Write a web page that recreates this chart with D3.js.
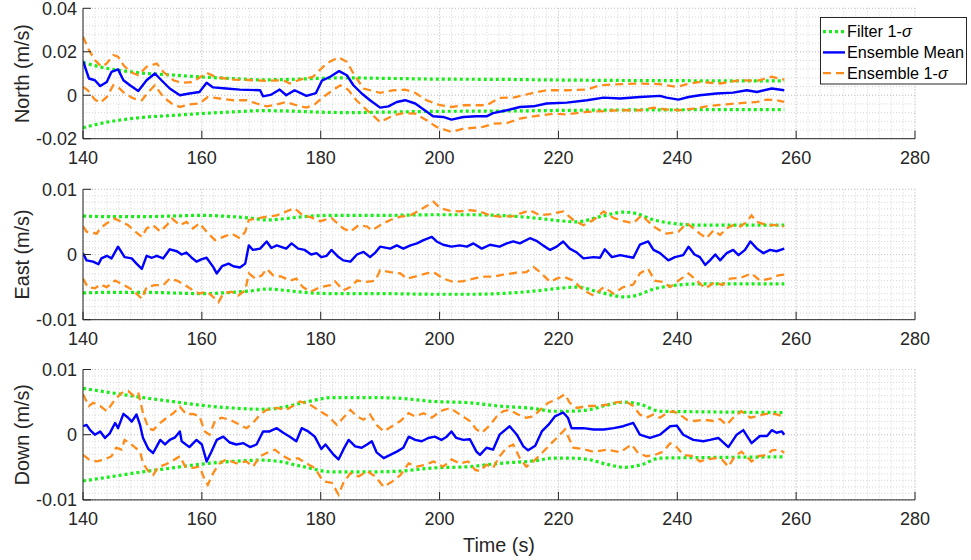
<!DOCTYPE html>
<html>
<head>
<meta charset="utf-8">
<script src="https://cdn.jsdelivr.net/npm/d3@7"></script>
<style>
  html, body { margin: 0; padding: 0; background: #fff; }
  svg { display: block; font-family: "Liberation Sans", Arial, Helvetica, sans-serif; }
</style>
</head>
<body>
<svg id="chart" width="971" height="560"></svg>
<script>
// Ensemble vs filter velocity error, three subplots (N / E / D).
// Each series is a list of [time (s), value (m/s)].

// ---------- North ----------
const northFilter = [[140,0.0150],[142,0.0136],[144,0.0124],[146,0.0115],[148,0.0108],[150,0.0102],[155,0.0093],[160,0.0084],[165,0.0077],[170,0.0071],[175,0.0073],[180,0.0078],[185,0.0080],[190,0.0078],[195,0.0076],[200,0.0074],[210,0.0073],[220,0.0070],[230,0.0068],[240,0.0067],[250,0.0066],[258,0.0066]];
const northMean = [[140,0.0158],[141,0.0077],[142,0.0069],[142.9,0.0042],[144,0.0061],[144.8,0.0108],[145.9,0.0119],[146.8,0.0069],[147.9,0.0046],[149.3,0.0020],[150.7,0.0069],[152.1,0.0100],[153.2,0.0069],[154.6,0.0031],[156.3,0.0000],[157.9,0.0008],[159.6,0.0015],[160.8,0.0057],[161.9,0.0036],[164.1,0.0031],[166.4,0.0026],[169.8,0.0023],[170.3,-0.0005],[171.7,0.0003],[173.1,0.0026],[174.2,0.0000],[175.6,0.0023],[177.6,-0.0003],[179.2,0.0010],[180.2,0.0067],[181.6,0.0085],[183.1,0.0111],[184.4,0.0092],[185.5,0.0046],[186.9,0.0008],[188.3,-0.0023],[190,-0.0057],[191.4,-0.0051],[192.8,-0.0031],[194.2,-0.0023],[195.9,-0.0038],[197.5,-0.0069],[198.9,-0.0097],[200.6,-0.0100],[202,-0.0112],[204,-0.0100],[206.2,-0.0097],[207.9,-0.0097],[209,-0.0082],[211.3,-0.0069],[213.5,-0.0054],[215.8,-0.0051],[218,-0.0038],[221.4,-0.0034],[224.8,-0.0023],[227.6,-0.0011],[230.4,-0.0015],[233.7,-0.0008],[237.1,-0.0003],[238.2,-0.0011],[240.2,-0.0020],[241.9,-0.0008],[243.8,0.0000],[246.6,0.0008],[249.4,0.0012],[251.7,0.0023],[253.4,0.0015],[255.9,0.0031],[258,0.0023]];
const northEnsUpper = [[140,0.0269],[141,0.0208],[142,0.0162],[143.1,0.0131],[144,0.0146],[145.1,0.0185],[145.9,0.0177],[146.8,0.0139],[147.9,0.0108],[149.3,0.0092],[150.7,0.0131],[152.4,0.0146],[153.5,0.0108],[155.2,0.0069],[156.6,0.0057],[158.5,0.0061],[160.8,0.0103],[162.5,0.0082],[165.3,0.0072],[168.6,0.0069],[170.9,0.0066],[173.7,0.0069],[174.8,0.0054],[176.5,0.0072],[178.7,0.0085],[180.4,0.0131],[181.5,0.0154],[183,0.0174],[184.4,0.0154],[185.5,0.0100],[187.2,0.0031],[190,0.0011],[192.3,0.0023],[194.2,0.0026],[195.9,0.0011],[197.8,-0.0023],[200.1,-0.0046],[202,-0.0054],[204,-0.0046],[207.9,-0.0046],[210.1,-0.0012],[212.4,-0.0011],[215.8,0.0011],[218,0.0023],[221.4,0.0023],[224.8,0.0026],[227,0.0046],[230.4,0.0051],[233.7,0.0054],[237.1,0.0051],[239.9,0.0038],[241.6,0.0051],[243.8,0.0061],[247.2,0.0054],[250.6,0.0069],[253.4,0.0066],[255.9,0.0085],[258,0.0072]];
const northEnsLower = [[140,0.0038],[140.8,0.0023],[142,-0.0020],[142.9,-0.0035],[144,-0.0008],[145.1,0.0046],[145.9,0.0038],[147,0.0008],[148.5,-0.0015],[149.9,-0.0023],[151,0.0015],[152.1,0.0046],[153.5,-0.0008],[154.9,-0.0038],[156.3,-0.0054],[157.9,-0.0042],[159.6,-0.0038],[161,-0.0008],[163,-0.0015],[165.3,-0.0023],[167.5,-0.0023],[169.2,-0.0038],[170.9,-0.0051],[172.6,-0.0042],[174.2,-0.0031],[175.9,-0.0046],[177.6,-0.0057],[179,-0.0042],[180.1,-0.0015],[181.6,0.0015],[183.3,0.0046],[184.6,0.0026],[186,-0.0023],[187.8,-0.0069],[190,-0.0123],[192.3,-0.0092],[194,-0.0082],[195.9,-0.0085],[197.8,-0.0115],[199.5,-0.0146],[202,-0.0169],[204,-0.0154],[207.3,-0.0146],[209,-0.0131],[211.3,-0.0128],[213.5,-0.0108],[215.8,-0.0097],[219.2,-0.0085],[221.4,-0.0088],[224.8,-0.0077],[228.2,-0.0072],[230.4,-0.0069],[233.7,-0.0069],[236,-0.0057],[238.2,-0.0066],[240.4,-0.0069],[242.7,-0.0062],[244.9,-0.0051],[248.3,-0.0042],[251.1,-0.0035],[253.4,-0.0031],[255.1,-0.0020],[256.7,-0.0023],[258,-0.0031]];
const northTicks = [-0.02, 0, 0.02, 0.04];
const northTickLabels = ['-0.02', '0', '0.02', '0.04'];

// ---------- East ----------
const eastFilter = [[140,0.0059],[145,0.0058],[150,0.0058],[155,0.0059],[160,0.0060],[165,0.0058],[168,0.0056],[171,0.0053],[174,0.0055],[177,0.0058],[182,0.0060],[190,0.0060],[200,0.0061],[205,0.0061],[210,0.0060],[216,0.0056],[220,0.0052],[223,0.0050],[227,0.0058],[231,0.0065],[233,0.0063],[236,0.0053],[239,0.0048],[244,0.0045],[250,0.0045],[258,0.0045]];
const eastMean = [[140,0.0002],[140.6,-0.0009],[141.7,-0.0011],[142.6,-0.0015],[143.1,-0.0006],[144,-0.0002],[144.8,-0.0006],[145.9,0.0012],[147,-0.0004],[148.2,-0.0006],[149,-0.0014],[149.9,-0.0022],[150.7,-0.0002],[151.6,-0.0005],[152.4,-0.0002],[153.5,-0.0006],[154.6,0.0008],[155.8,0.0005],[156.6,0.0000],[157.4,0.0003],[158.3,-0.0005],[159.1,-0.0011],[160,-0.0007],[160.8,-0.0005],[161.9,-0.0019],[162.5,-0.0029],[163.4,-0.0018],[164.5,-0.0014],[165.3,-0.0018],[166.4,-0.0020],[167.3,-0.0014],[167.9,0.0014],[168.6,0.0007],[169.8,0.0009],[170.9,0.0020],[171.7,0.0010],[172.6,0.0014],[174.2,0.0009],[175.1,0.0017],[176.2,0.0009],[177.3,0.0007],[178.4,0.0000],[179.3,0.0002],[180.1,-0.0004],[181,-0.0002],[181.8,0.0007],[183,-0.0004],[183.8,-0.0009],[185,-0.0011],[186.1,0.0000],[187.2,0.0004],[188.3,-0.0004],[189.2,0.0003],[190,0.0012],[191.7,0.0009],[192.8,0.0014],[193.9,0.0009],[195.1,0.0014],[196.2,0.0017],[197.3,0.0022],[198.7,0.0027],[199.5,0.0020],[200.6,0.0015],[202,0.0012],[203.4,0.0014],[204.6,0.0012],[205.7,0.0017],[207.1,0.0009],[208.5,0.0015],[210.1,0.0012],[211.3,0.0017],[212.4,0.0020],[213.5,0.0017],[215.2,0.0025],[216.3,0.0021],[217.4,0.0014],[218.6,0.0007],[219.7,0.0012],[220.8,0.0020],[221.9,0.0009],[223.1,0.0003],[224.2,-0.0006],[225.9,-0.0004],[227,-0.0005],[227.8,0.0008],[229,-0.0004],[230.4,-0.0001],[232.6,-0.0005],[233.7,0.0015],[235.1,0.0020],[236,0.0007],[237.1,0.0002],[238.5,-0.0009],[239.6,-0.0004],[241,-0.0001],[241.9,0.0012],[242.9,0.0000],[243.8,-0.0004],[244.7,-0.0016],[245.5,-0.0009],[246.4,0.0000],[247.2,-0.0009],[248.3,0.0002],[249.4,0.0007],[250.3,-0.0001],[251.4,0.0007],[252.3,0.0020],[253.4,0.0009],[254.5,0.0002],[255.6,0.0007],[256.7,0.0005],[258,0.0009]];
const eastEnsUpper = [[140,0.0043],[140.6,0.0035],[142.3,0.0032],[142.9,0.0040],[144,0.0048],[145.4,0.0055],[146.5,0.0050],[147.6,0.0045],[148.8,0.0035],[149.9,0.0027],[150.7,0.0040],[151.8,0.0045],[153,0.0035],[154.1,0.0045],[155,0.0055],[156.3,0.0045],[157.4,0.0050],[158.5,0.0040],[159.6,0.0048],[160.8,0.0035],[162.2,0.0022],[163.6,0.0027],[165,0.0032],[166.4,0.0025],[167.3,0.0035],[167.9,0.0053],[169.2,0.0055],[170.9,0.0058],[172.6,0.0060],[174.2,0.0066],[175.6,0.0071],[177,0.0060],[178.4,0.0057],[179.9,0.0051],[181.8,0.0056],[183.8,0.0040],[185,0.0035],[186.4,0.0045],[187.8,0.0043],[188.6,0.0037],[190,0.0045],[191.7,0.0053],[193.4,0.0058],[195.1,0.0060],[196.7,0.0068],[199,0.0081],[200.1,0.0071],[201.8,0.0067],[203.4,0.0066],[205.1,0.0068],[206.8,0.0066],[208.5,0.0060],[210.1,0.0058],[212.4,0.0059],[215.2,0.0068],[216.9,0.0060],[218.6,0.0062],[220.8,0.0066],[222.5,0.0053],[224.2,0.0045],[225.9,0.0053],[227.6,0.0066],[229.3,0.0056],[231,0.0051],[232.6,0.0048],[234,0.0060],[236,0.0043],[237.1,0.0037],[238.2,0.0032],[240.2,0.0035],[241.6,0.0048],[242.7,0.0040],[243.8,0.0032],[244.9,0.0025],[246.1,0.0037],[247.2,0.0030],[248.3,0.0040],[249.4,0.0045],[250.6,0.0043],[251.7,0.0050],[252.5,0.0060],[253.4,0.0050],[255.1,0.0045],[256.7,0.0045],[258,0.0043]];
const eastEnsLower = [[140,-0.0037],[140.8,-0.0050],[142,-0.0052],[142.9,-0.0046],[144,-0.0050],[145.4,-0.0040],[146.5,-0.0045],[147.9,-0.0052],[149,-0.0060],[149.9,-0.0068],[150.7,-0.0050],[152.1,-0.0047],[153.5,-0.0047],[154.6,-0.0037],[155.8,-0.0040],[157.2,-0.0047],[158.5,-0.0055],[159.6,-0.0060],[160.8,-0.0057],[161.9,-0.0065],[162.8,-0.0073],[163.6,-0.0060],[165,-0.0057],[166.1,-0.0063],[167.3,-0.0055],[167.9,-0.0029],[169,-0.0037],[170.1,-0.0032],[170.9,-0.0022],[172,-0.0032],[173.4,-0.0034],[174.8,-0.0040],[175.9,-0.0037],[177,-0.0050],[178.3,-0.0057],[179.9,-0.0050],[181.6,-0.0047],[182.4,-0.0041],[183.8,-0.0055],[185,-0.0050],[186.1,-0.0040],[187.8,-0.0042],[189.2,-0.0040],[190,-0.0024],[191.7,-0.0027],[193.4,-0.0029],[194.5,-0.0037],[196.2,-0.0033],[197.8,-0.0029],[199,-0.0027],[200.6,-0.0037],[202.3,-0.0042],[204,-0.0041],[205.7,-0.0037],[207.3,-0.0034],[209,-0.0034],[210.7,-0.0031],[212.9,-0.0028],[214.6,-0.0027],[215.8,-0.0019],[216.9,-0.0027],[218.6,-0.0042],[219.7,-0.0037],[220.8,-0.0034],[222.5,-0.0040],[224.2,-0.0055],[225.9,-0.0063],[227.6,-0.0050],[229.3,-0.0060],[230.9,-0.0050],[232.6,-0.0046],[233.7,-0.0029],[235.1,-0.0022],[236.2,-0.0040],[237.6,-0.0042],[238.8,-0.0050],[240.2,-0.0040],[241.9,-0.0029],[243.3,-0.0040],[244.7,-0.0052],[246.4,-0.0042],[247.5,-0.0047],[248.9,-0.0037],[250.6,-0.0036],[252.5,-0.0029],[253.9,-0.0040],[255.6,-0.0037],[257,-0.0032],[258,-0.0031]];
const eastTicks = [-0.01, 0, 0.01];
const eastTickLabels = ['-0.01', '0', '0.01'];

// ---------- Down ----------
const downFilter = [[140,0.0071],[145,0.0064],[150,0.0057],[155,0.0051],[160,0.0045],[165,0.0041],[170,0.0039],[173,0.0041],[177,0.0049],[182,0.0057],[188,0.0057],[193,0.0056],[199,0.0051],[205,0.0049],[210,0.0044],[216,0.0040],[219,0.0036],[222,0.0036],[225,0.0038],[228,0.0045],[231,0.0050],[234,0.0046],[237,0.0036],[245,0.0035],[258,0.0034]];
const downMean = [[140,0.0013],[140.6,0.0015],[141.2,0.0007],[142,0.0000],[142.9,0.0005],[143.7,-0.0005],[144.5,0.0002],[145.4,0.0018],[145.9,0.0010],[146.8,0.0032],[147.6,0.0026],[148.2,0.0020],[149,0.0031],[149.6,0.0015],[150.1,-0.0005],[151,-0.0022],[151.8,-0.0028],[153,-0.0008],[153.8,-0.0015],[154.6,-0.0008],[155.5,-0.0004],[156.3,0.0005],[156.6,-0.0010],[157.9,-0.0019],[159.1,-0.0008],[160,-0.0015],[160.8,-0.0041],[161.6,-0.0026],[162.5,-0.0008],[163.6,-0.0003],[164.7,-0.0012],[165.8,-0.0015],[167,-0.0013],[168.1,-0.0019],[169.2,-0.0015],[170.3,0.0005],[171.4,0.0005],[172.6,0.0010],[173.7,0.0003],[174.8,-0.0003],[175.9,-0.0010],[176.8,0.0010],[177.9,0.0005],[179,-0.0003],[180.1,-0.0022],[180.8,-0.0015],[182.2,-0.0031],[183,-0.0038],[183.8,-0.0023],[184.7,-0.0008],[185.8,-0.0018],[186.9,-0.0020],[187.8,-0.0015],[188.6,-0.0010],[189.4,-0.0027],[190.6,-0.0036],[191.7,-0.0031],[192.8,-0.0026],[193.9,-0.0020],[194.8,-0.0003],[195.9,-0.0008],[197,-0.0010],[198.1,-0.0005],[199.2,-0.0003],[200.3,-0.0008],[201.2,-0.0003],[202,0.0005],[202.8,-0.0005],[204,-0.0008],[205.1,-0.0007],[206.2,-0.0026],[206.8,-0.0031],[207.9,-0.0020],[209,-0.0023],[210.1,0.0000],[211.8,0.0013],[213,0.0000],[214.1,-0.0018],[214.9,-0.0024],[216.1,-0.0017],[217.2,0.0005],[218.3,0.0015],[219.4,0.0028],[220.8,0.0034],[221.6,0.0026],[222.2,0.0010],[224.2,0.0010],[225.9,0.0008],[227.6,0.0008],[229.3,0.0010],[230.9,0.0013],[232.6,0.0018],[233.7,0.0000],[235.4,-0.0005],[237.1,0.0000],[238.8,0.0013],[239.9,0.0014],[241,0.0000],[242.7,-0.0008],[244.4,-0.0010],[245.5,-0.0008],[246.9,-0.0005],[248.6,-0.0019],[250,0.0000],[251.1,0.0007],[252.5,-0.0013],[253.9,-0.0002],[255.1,-0.0002],[255.9,0.0007],[256.7,0.0003],[257.6,0.0005],[258,0.0000]];
const downEnsUpper = [[140,0.0062],[141,0.0044],[141.7,0.0049],[142.9,0.0044],[144,0.0036],[145.4,0.0054],[146.5,0.0064],[147.6,0.0067],[148.5,0.0060],[149.3,0.0065],[150.1,0.0033],[151,0.0010],[151.8,0.0007],[153,0.0018],[154.1,0.0026],[155.2,0.0033],[156.3,0.0043],[157.4,0.0031],[158.5,0.0032],[159.6,0.0028],[160.5,0.0005],[161.3,0.0000],[162.2,0.0021],[163.3,0.0026],[164.7,0.0023],[165.8,0.0018],[167.5,0.0010],[168.6,0.0018],[169.8,0.0031],[170.9,0.0038],[172.6,0.0041],[174.2,0.0038],[175.3,0.0044],[176.5,0.0051],[178.2,0.0046],[179.9,0.0036],[181.3,0.0028],[182.7,0.0015],[183.8,0.0026],[185,0.0038],[186.1,0.0028],[187.2,0.0023],[188.3,0.0031],[189.4,0.0015],[190.6,0.0005],[192,0.0013],[193.4,0.0021],[194.8,0.0033],[195.9,0.0028],[197.3,0.0033],[198.7,0.0026],[200.1,0.0036],[201.8,0.0041],[203.4,0.0031],[205.1,0.0021],[206.2,0.0008],[207.1,0.0003],[208.5,0.0015],[209.6,0.0028],[210.7,0.0036],[211.8,0.0038],[213.2,0.0031],[214.6,0.0026],[215.8,0.0028],[216.9,0.0038],[218.3,0.0049],[219.7,0.0054],[221.1,0.0062],[221.9,0.0049],[223.1,0.0041],[224.8,0.0044],[226.5,0.0044],[228.2,0.0046],[229.9,0.0050],[231.5,0.0050],[232.6,0.0044],[233.7,0.0031],[234.8,0.0026],[236,0.0031],[237.1,0.0026],[238.2,0.0033],[239.3,0.0036],[240.4,0.0031],[241.6,0.0023],[243,0.0021],[244.4,0.0023],[246.1,0.0021],[247.2,0.0024],[248.3,0.0015],[249.4,0.0026],[250.8,0.0036],[252.3,0.0026],[253.4,0.0028],[254.5,0.0031],[255.6,0.0033],[256.7,0.0031],[258,0.0028]];
const downEnsLower = [[140,-0.0031],[141,-0.0038],[142.3,-0.0041],[143.7,-0.0038],[144.8,-0.0033],[145.6,-0.0020],[146.5,-0.0023],[147,-0.0008],[147.9,-0.0013],[148.8,-0.0020],[149.6,-0.0026],[150.1,-0.0044],[151,-0.0056],[151.8,-0.0062],[152.7,-0.0049],[153.8,-0.0046],[154.9,-0.0041],[156.3,-0.0033],[157.2,-0.0049],[158.5,-0.0051],[159.6,-0.0049],[160.5,-0.0069],[161,-0.0077],[161.9,-0.0059],[163,-0.0044],[164.1,-0.0038],[165.8,-0.0044],[167.5,-0.0041],[168.6,-0.0049],[169.8,-0.0033],[170.9,-0.0028],[172.3,-0.0023],[173.4,-0.0031],[174.8,-0.0038],[176.2,-0.0036],[177.6,-0.0044],[179,-0.0051],[180.1,-0.0067],[180.7,-0.0072],[181.9,-0.0074],[183,-0.0092],[183.8,-0.0074],[185,-0.0059],[186.4,-0.0064],[187.8,-0.0056],[189.2,-0.0064],[190.6,-0.0080],[192,-0.0072],[193.4,-0.0062],[194.8,-0.0044],[196.2,-0.0049],[197.6,-0.0046],[199,-0.0041],[200.6,-0.0049],[202,-0.0038],[203.4,-0.0044],[204.8,-0.0041],[206,-0.0054],[206.8,-0.0056],[207.9,-0.0046],[209,-0.0051],[210.1,-0.0033],[211.3,-0.0020],[212.4,-0.0015],[213.5,-0.0036],[214.6,-0.0049],[215.8,-0.0041],[216.9,-0.0031],[218.3,-0.0018],[219.7,-0.0005],[221.1,0.0008],[221.9,-0.0008],[222.5,-0.0020],[224.2,-0.0022],[225.9,-0.0026],[228.2,-0.0023],[230.4,-0.0027],[232.3,-0.0015],[233.4,-0.0028],[234.8,-0.0033],[236.2,-0.0031],[237.6,-0.0026],[238.8,-0.0013],[239.9,-0.0019],[241,-0.0031],[242.7,-0.0033],[243.8,-0.0041],[244.9,-0.0038],[246.4,-0.0036],[247.5,-0.0038],[248.6,-0.0049],[249.7,-0.0033],[250.8,-0.0026],[252.5,-0.0041],[253.7,-0.0033],[255.1,-0.0031],[255.9,-0.0024],[257.3,-0.0023],[258,-0.0028]];
const downTicks = [-0.01, 0, 0.01];
const downTickLabels = ['-0.01', '0', '0.01'];

// ---------- shared axis ----------
const timeTicks = [140, 160, 180, 200, 220, 240, 260, 280];
const timeTickLabels = ['140', '160', '180', '200', '220', '240', '260', '280'];
const legendLabels = ['Filter 1-', 'Ensemble Mean', 'Ensemble 1-'];

// ---------- layout / style ----------
const W = 971, H = 560;
const X0 = 83, X1 = 915;
const PANEL_TOPS = [8.3, 189.3, 369.5], PANEL_H = 130.4;
const INK = '#262626';
const C_FILTER = '#1aee1a', C_MEAN = '#0000ff', C_ENS = '#ff8c1a';
const FS_TICK = 18, FS_LABEL = 19.8, FS_LEG = 16.2;

const panels = [
  { label: 'North (m/s)', ticks: northTicks, tickLabels: northTickLabels, minor: 0.004,
    filter: northFilter, mean: northMean, up: northEnsUpper, lo: northEnsLower, legend: true },
  { label: 'East (m/s)', ticks: eastTicks, tickLabels: eastTickLabels, minor: 0.001,
    filter: eastFilter, mean: eastMean, up: eastEnsUpper, lo: eastEnsLower },
  { label: 'Down (m/s)', ticks: downTicks, tickLabels: downTickLabels, minor: 0.001,
    filter: downFilter, mean: downMean, up: downEnsUpper, lo: downEnsLower, xlabel: 'Time (s)' },
];

const svg = d3.select('#chart');
svg.append('rect').attr('width', W).attr('height', H).attr('fill', '#fff');

const x = d3.scaleLinear().domain([140, 280]).range([X0, X1]);

panels.forEach((p, i) => {
  const top = PANEL_TOPS[i];
  const lo = p.ticks[0], hi = p.ticks[p.ticks.length - 1];
  const y = d3.scaleLinear().domain([lo, hi]).range([top + PANEL_H, top]);
  const g = svg.append('g');

  // grid: minor dotted, major dotted slightly darker
  const gGrid = g.append('g');
  const nMinY = Math.round((hi - lo) / p.minor);
  d3.range(nMinY + 1).map(k => lo + k * p.minor).forEach(v => {
    gGrid.append('line').attr('x1', X0).attr('x2', X1).attr('y1', y(v)).attr('y2', y(v))
      .attr('stroke', '#d6d6d6').attr('stroke-width', 1).attr('stroke-dasharray', '1,2');
  });
  d3.range(140, 281, 2).forEach(t => {
    gGrid.append('line').attr('x1', x(t)).attr('x2', x(t)).attr('y1', top).attr('y2', top + PANEL_H)
      .attr('stroke', '#d6d6d6').attr('stroke-width', 1).attr('stroke-dasharray', '1,2');
  });
  p.ticks.forEach(v => {
    gGrid.append('line').attr('x1', X0).attr('x2', X1).attr('y1', y(v)).attr('y2', y(v))
      .attr('stroke', '#c8c8c8').attr('stroke-width', 1).attr('stroke-dasharray', '1,2');
  });
  timeTicks.forEach(t => {
    gGrid.append('line').attr('x1', x(t)).attr('x2', x(t)).attr('y1', top).attr('y2', top + PANEL_H)
      .attr('stroke', '#c8c8c8').attr('stroke-width', 1).attr('stroke-dasharray', '1,2');
  });

  // clip
  const clipId = 'clip' + i;
  svg.append('clipPath').attr('id', clipId).append('rect')
    .attr('x', X0).attr('y', top).attr('width', X1 - X0).attr('height', PANEL_H);
  const gData = g.append('g').attr('clip-path', `url(#${clipId})`);

  const lineRaw = d3.line().x(d => x(d[0])).y(d => y(d[1]));
  const lineSmooth = d3.line().x(d => x(d[0])).y(d => y(d[1])).curve(d3.curveMonotoneX);

  // filter 1-sigma (± envelope)
  [1, -1].forEach(s => {
    gData.append('path').datum(p.filter.map(d => [d[0], s * d[1]]))
      .attr('d', lineSmooth).attr('fill', 'none').attr('stroke', C_FILTER)
      .attr('stroke-width', 3.2).attr('stroke-dasharray', '3,3');
  });
  // ensemble mean
  gData.append('path').datum(p.mean).attr('d', lineRaw).attr('fill', 'none')
    .attr('stroke', C_MEAN).attr('stroke-width', 2.4).attr('stroke-linejoin', 'round');
  // ensemble 1-sigma
  [p.up, p.lo].forEach(ser => {
    gData.append('path').datum(ser).attr('d', lineRaw).attr('fill', 'none')
      .attr('stroke', C_ENS).attr('stroke-width', 2.3).attr('stroke-dasharray', '8,5');
  });

  // axes: left + bottom only, ticks pointing inward
  const gAx = g.append('g').attr('fill', INK);
  gAx.append('line').attr('x1', X0).attr('x2', X0).attr('y1', top).attr('y2', top + PANEL_H)
    .attr('stroke', INK).attr('stroke-width', 1);
  gAx.append('line').attr('x1', X0).attr('x2', X1).attr('y1', top + PANEL_H).attr('y2', top + PANEL_H)
    .attr('stroke', INK).attr('stroke-width', 1);
  p.ticks.forEach((v, k) => {
    gAx.append('line').attr('x1', X0).attr('x2', X0 + 8).attr('y1', y(v)).attr('y2', y(v))
      .attr('stroke', INK).attr('stroke-width', 1);
    gAx.append('text').attr('x', X0 - 6).attr('y', y(v)).attr('dy', '0.35em')
      .attr('text-anchor', 'end').style('font-size', FS_TICK + 'px').text(p.tickLabels[k]);
  });
  timeTicks.forEach((t, k) => {
    gAx.append('line').attr('x1', x(t)).attr('x2', x(t)).attr('y1', top + PANEL_H).attr('y2', top + PANEL_H - 8)
      .attr('stroke', INK).attr('stroke-width', 1);
    gAx.append('text').attr('x', x(t)).attr('y', top + PANEL_H + 25)
      .attr('text-anchor', 'middle').style('font-size', FS_TICK + 'px').text(timeTickLabels[k]);
  });
  gAx.append('text')
    .attr('transform', `translate(29,${top + PANEL_H / 2}) rotate(-90)`)
    .attr('text-anchor', 'middle').style('font-size', FS_LABEL + 'px').text(p.label);
  if (p.xlabel) {
    gAx.append('text').attr('x', (X0 + X1) / 2).attr('y', top + PANEL_H + 52)
      .attr('text-anchor', 'middle').style('font-size', FS_LABEL + 'px').text(p.xlabel);
  }

  // legend
  if (p.legend) {
    const lg = svg.append('g');
    lg.append('rect').attr('x', 820.5).attr('y', 17.5).attr('width', 146).attr('height', 66.5)
      .attr('fill', '#fff').attr('stroke', INK).attr('stroke-width', 1);
    const rows = [
      { c: C_FILTER, w: 3.2, dash: '3,3', sigma: true },
      { c: C_MEAN, w: 2.4, dash: null, sigma: false },
      { c: C_ENS, w: 2.3, dash: '8,5', sigma: true },
    ];
    rows.forEach((r, k) => {
      const ry = 31.7 + k * 20.7;
      const ln = lg.append('line').attr('x1', 823).attr('x2', 845).attr('y1', ry).attr('y2', ry)
        .attr('stroke', r.c).attr('stroke-width', r.w);
      if (r.dash) ln.attr('stroke-dasharray', r.dash);
      const tx = lg.append('text').attr('x', 847).attr('y', ry).attr('dy', '0.35em')
        .attr('fill', '#000').style('font-size', FS_LEG + 'px').text(legendLabels[k]);
      if (r.sigma) tx.append('tspan').style('font-style', 'italic').text('σ');
    });
  }
});
</script>
</body>
</html>
